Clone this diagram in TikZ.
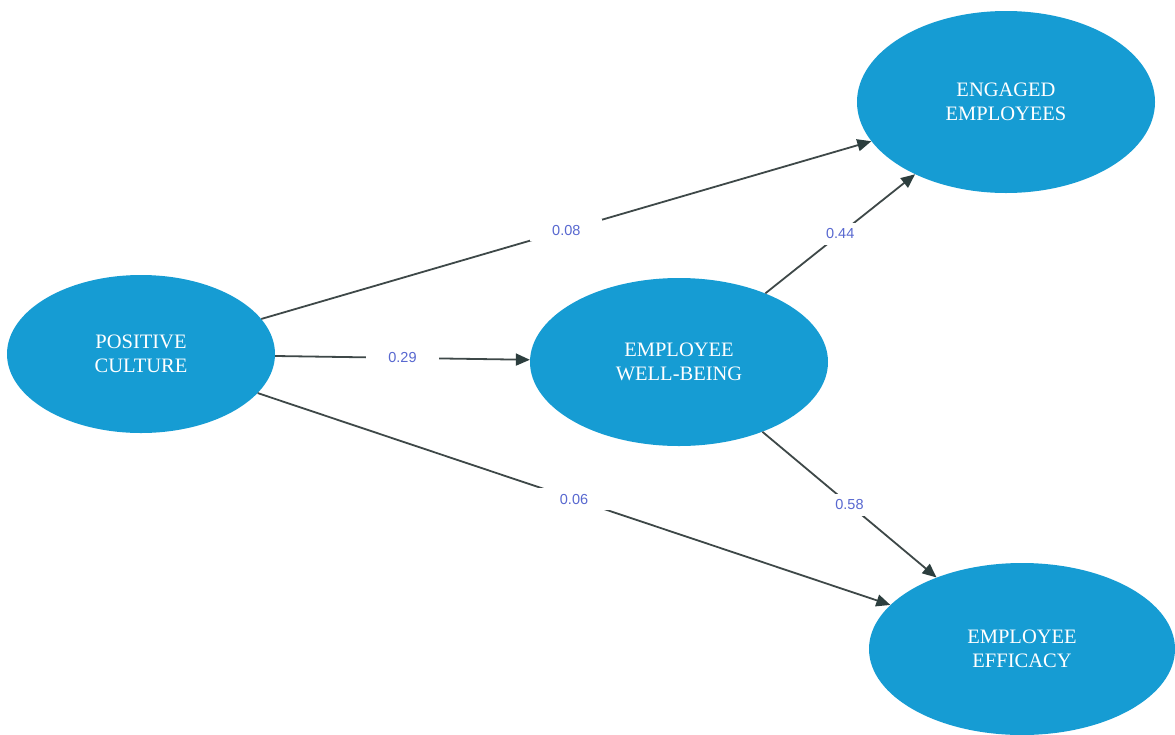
\documentclass[tikz,border=0pt]{standalone}
\usepackage{fontspec}
\setmainfont{Liberation Serif}
\newfontfamily\labelfont{Liberation Sans}
\usetikzlibrary{shapes.geometric,arrows.meta}
\definecolor{nodeblue}{RGB}{22,156,211}
\definecolor{linegray}{RGB}{62,72,72}
\definecolor{tipgray}{RGB}{44,62,62}
\definecolor{coefblue}{RGB}{88,104,208}
\begin{document}
\begin{tikzpicture}[x=1pt,y=-1pt,
  latent/.style={ellipse, fill=nodeblue, draw=none, inner sep=0pt, text=white,
    align=center, font=\fontsize{20.5}{24}\selectfont},
  path/.style={draw=linegray, line width=1.8pt,
    -{Triangle[length=14pt,width=12pt,fill=tipgray,color=tipgray]}},
  coef/.style={fill=white, text=coefblue, inner xsep=22pt, inner ysep=6pt,
    font=\labelfont\fontsize{14.5}{16}\selectfont}]
\useasboundingbox[fill=white] (0,0) rectangle (1175,734);
\node[latent, minimum width=268pt, minimum height=158pt] (pc) at (141,354) {POSITIVE\\CULTURE};
\node[latent, minimum width=298pt, minimum height=168pt] (wb) at (679,362) {EMPLOYEE\\WELL-BEING};
\node[latent, minimum width=298pt, minimum height=182pt] (en) at (1006,102) {ENGAGED\\EMPLOYEES};
\node[latent, minimum width=306pt, minimum height=172pt] (ef) at (1022,649) {EMPLOYEE\\EFFICACY};
\draw[path] (pc) -- node[coef, pos=0.5] {0.08} (en);
\draw[path] (pc) -- node[coef, pos=0.5] {0.29} (wb);
\draw[path] (pc) -- node[coef, pos=0.5] {0.06} (ef);
\draw[path] (wb) -- node[coef, pos=0.5] {0.44} (en);
\draw[path] (wb) -- node[coef, pos=0.5] {0.58} (ef);
\end{tikzpicture}
\end{document}
